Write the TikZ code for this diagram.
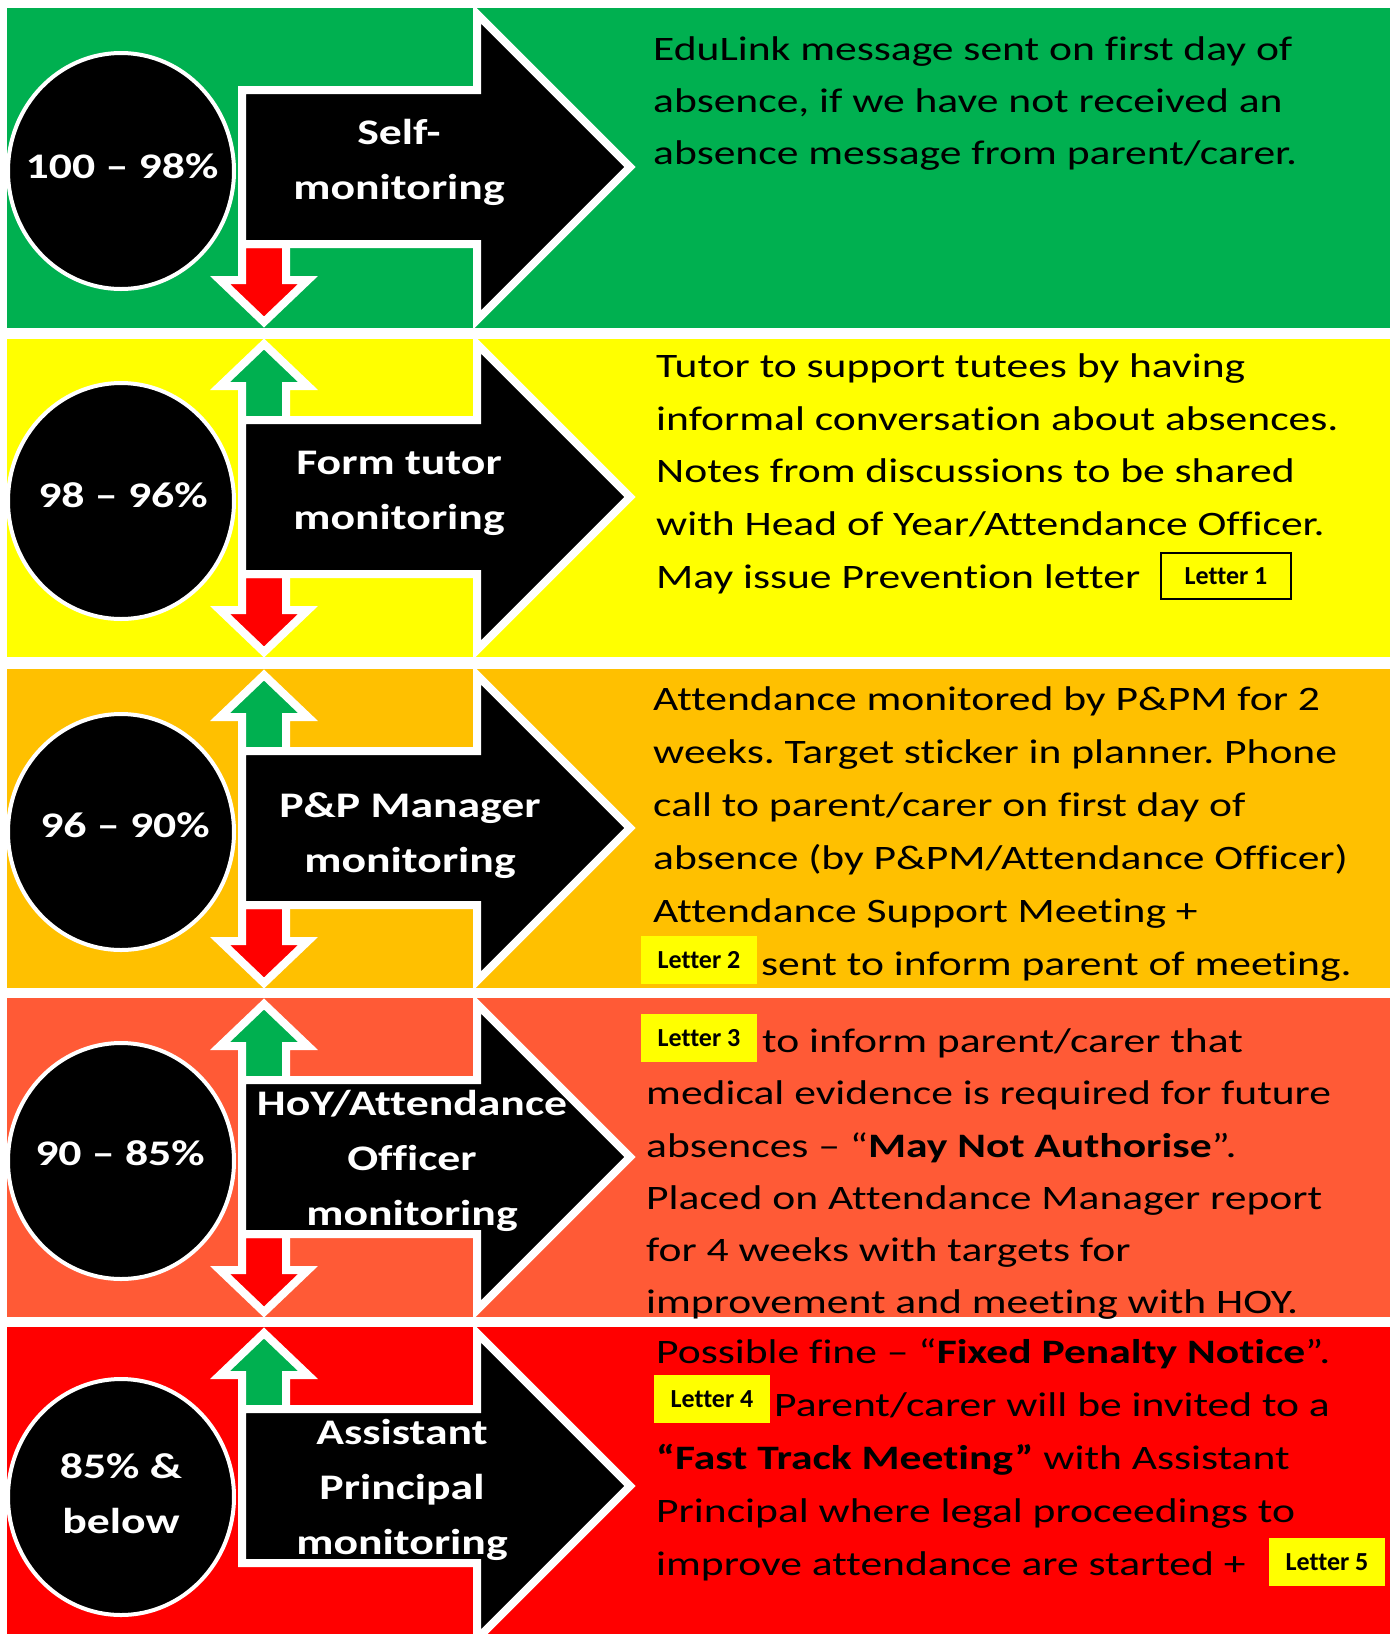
\documentclass[tikz,border=0pt]{standalone}
\usepackage{fontspec}
\setmainfont{Carlito}[FakeStretch=1.27, Ligatures=NoCommon]
\newfontfamily\boxfont{Carlito}[Ligatures=NoCommon]
\usetikzlibrary{shapes.geometric}
\definecolor{bandgreen}{HTML}{00B050}
\definecolor{bandyellow}{HTML}{FFFF00}
\definecolor{bandamber}{HTML}{FFC000}
\definecolor{bandorange}{HTML}{FF5A36}
\definecolor{bandred}{HTML}{FF0000}
\frenchspacing
\begin{document}
\begin{tikzpicture}[x=1pt, y=-1pt, every node/.style={inner sep=0pt},
    stagearrow/.style={fill=black, draw=white, line width=8pt},
    downarrow/.style={fill=bandred, draw=white, line width=8pt},
    uparrow/.style={fill=bandgreen, draw=white, line width=8pt},
    rangeoval/.style={ellipse, fill=black, draw=white, line width=4pt, minimum width=226pt, minimum height=236pt},
    rangetext/.style={text=white, align=center, font=\fontsize{36}{55}\selectfont\bfseries},
    stagetext/.style={text=white, align=center, font=\fontsize{36}{55}\selectfont\bfseries},
    bandtext/.style={anchor=base west, font=\fontsize{34.3}{52}\selectfont},
    letterbox/.style={fill=bandyellow, minimum width=116pt, minimum height=48pt, font=\boxfont\fontsize{26}{30}\selectfont\bfseries}]
    \useasboundingbox (0,0) rectangle (1393,1634);
    \fill[white] (0,0) rectangle (1393,1634);
    \fill[bandgreen] (7,8) rectangle (1390,328);
    \fill[bandyellow] (7,339) rectangle (1390,657);
    \fill[bandamber] (7,669) rectangle (1390,988);
    \fill[bandorange] (7,998) rectangle (1390,1317);
    \fill[bandred] (7,1327) rectangle (1390,1634);
    \foreach \t in {8,338,669,998}
        \filldraw[downarrow] (242,\t+236) -- (286,\t+236) -- (286,\t+272) -- (308,\t+272) -- (264,\t+314) -- (220,\t+272) -- (242,\t+272) -- cycle;
    \foreach \t in {338,669,998,1327}
        \filldraw[uparrow] (242,\t+82) -- (242,\t+48) -- (220,\t+48) -- (264,\t+6) -- (308,\t+48) -- (286,\t+48) -- (286,\t+82) -- cycle;
    \foreach \t in {8,338,669,998,1327}
        \filldraw[stagearrow] (242,\t+82) -- (477,\t+82) -- (477,\t+6) -- (630,\t+159) -- (477,\t+312) -- (477,\t+236) -- (242,\t+236) -- cycle;
    \node[rangeoval] (p1) at (121,171) {};
    \node[rangeoval] (p2) at (121,501) {};
    \node[rangeoval] (p3) at (121,832) {};
    \node[rangeoval] (p4) at (121,1161) {};
    \node[rangeoval] (p5) at (121,1497) {};
    \node[rangetext] (p1t) at (122,166) {100 – 98\%};
    \node[rangetext] (p2t) at (123,495) {98 – 96\%};
    \node[rangetext] (p3t) at (125,825) {96 – 90\%};
    \node[rangetext] (p4t) at (120,1153) {90 – 85\%};
    \node[rangetext] (p5t) at (121,1494) {85\% \&\\below};
    \node[stagetext] (s1) at (399,162) {Self-\\monitoring};
    \node[stagetext] (s2) at (399,493) {Form tutor\\monitoring};
    \node[stagetext] (s3) at (410,836) {P\&P Manager\\monitoring};
    \node[stagetext] (s4) at (412,1161) {HoY/Attendance\\Officer\\monitoring};
    \node[stagetext] (s5) at (402,1490) {Assistant\\Principal\\monitoring};
    \node[bandtext] (g1) at (653,60) {EduLink message sent on first day of};
    \node[bandtext] (g2) at (653,112) {absence, if we have not received an};
    \node[bandtext] (g3) at (653,164) {absence message from parent/carer.};
    \node[bandtext] (y1) at (656,377) {Tutor to support tutees by having};
    \node[bandtext] (y2) at (656,430) {informal conversation about absences.};
    \node[bandtext] (y3) at (656,482) {Notes from discussions to be shared};
    \node[bandtext] (y4) at (656,535) {with Head of Year/Attendance Officer.};
    \node[bandtext] (y5) at (656,588) {May issue Prevention letter};
    \node[letterbox, draw=black, line width=2pt, minimum width=130pt, minimum height=46pt] (letter1) at (1226,576) {Letter 1};
    \node[bandtext] (a1) at (653,710) {Attendance monitored by P\&PM for 2};
    \node[bandtext] (a2) at (653,763) {weeks. Target sticker in planner. Phone};
    \node[bandtext] (a3) at (653,816) {call to parent/carer on first day of};
    \node[bandtext] (a4) at (653,869) {absence (by P\&PM/Attendance Officer)};
    \node[bandtext] (a5) at (653,922) {Attendance Support Meeting +};
    \node[letterbox] (letter2) at (699,960) {Letter 2};
    \node[bandtext] (a6) at (761,975) {sent to inform parent of meeting.};
    \node[letterbox] (letter3) at (699,1038) {Letter 3};
    \node[bandtext] (o1) at (762,1052) {to inform parent/carer that};
    \node[bandtext] (o2) at (646,1104) {medical evidence is required for future};
    \node[bandtext] (o3) at (646,1157) {absences – “\textbf{May Not Authorise}”.};
    \node[bandtext] (o4) at (646,1209) {Placed on Attendance Manager report};
    \node[bandtext] (o5) at (646,1261) {for 4 weeks with targets for};
    \node[bandtext] (o6) at (646,1313) {improvement and meeting with HOY.};
    \node[bandtext] (r1) at (656,1363) {Possible fine – “\textbf{Fixed Penalty Notice}”.};
    \node[letterbox] (letter4) at (712,1399) {Letter 4};
    \node[bandtext] (r2) at (774,1416) {Parent/carer will be invited to a};
    \node[bandtext] (r3) at (656,1469) {\textbf{“Fast Track Meeting”} with Assistant};
    \node[bandtext] (r4) at (656,1522) {Principal where legal proceedings to};
    \node[bandtext] (r5) at (656,1575) {improve attendance are started +};
    \node[letterbox] (letter5) at (1327,1562) {Letter 5};
\end{tikzpicture}
\end{document}
